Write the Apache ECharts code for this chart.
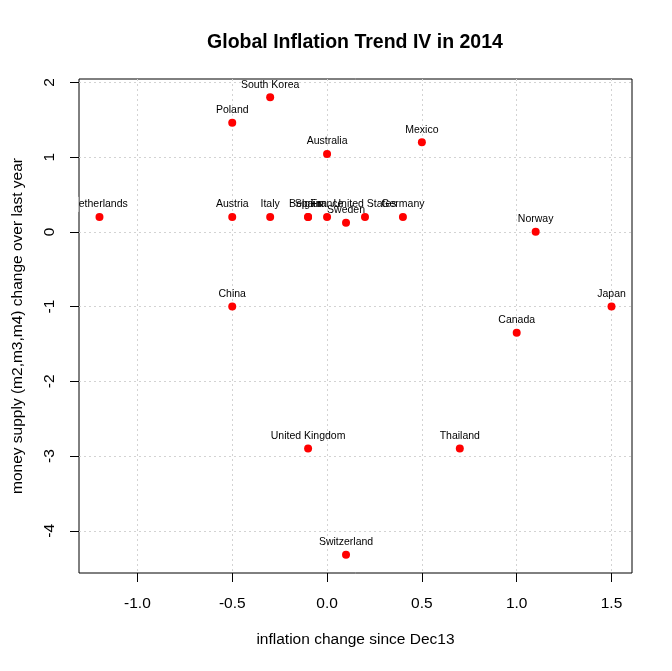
<!DOCTYPE html>
<html>
<head>
<meta charset="utf-8">
<title>Global Inflation Trend IV in 2014</title>
<script src="https://cdn.jsdelivr.net/npm/echarts@6/dist/echarts.min.js"></script>
<style>
  html, body { margin: 0; padding: 0; background: #fff; }
  #main { width: 672px; height: 671px; }
</style>
</head>
<body>
<div id="main"></div>
<script>
// data
const countries = ['South Korea', 'Poland', 'Australia', 'Mexico', 'Netherlands', 'Austria', 'Italy',
  'Belgium', 'Spain', 'France', 'Sweden', 'United States', 'Germany', 'Norway', 'China', 'Japan',
  'Canada', 'United Kingdom', 'Thailand', 'Switzerland']
const inflation = [-0.3, -0.5, 0.0, 0.5, -1.2, -0.5, -0.3, -0.1, -0.1, 0.0, 0.1, 0.2, 0.4, 1.1, -0.5, 1.5, 1.0, -0.1, 0.7, 0.1]
const moneySupply = [1.8, 1.46, 1.04, 1.2, 0.2, 0.2, 0.2, 0.2, 0.2, 0.2, 0.12, 0.2, 0.2, 0.0, -1.0, -1.0, -1.35, -2.9, -2.9, -4.32]

const xTicks = [-1.0, -0.5, 0.0, 0.5, 1.0, 1.5]
const yTicks = [-4, -3, -2, -1, 0, 1, 2]

const FONT = 'Liberation Sans, Arial, sans-serif'

// R style 4% padding of the data range
function padRange(vals) {
  const lo = Math.min(...vals), hi = Math.max(...vals)
  const d = (hi - lo) * 0.04
  return [lo - d, hi + d]
}
const xr = padRange(inflation)
const yr = padRange(moneySupply)

const points = countries.map((c, i) => ({ name: c, value: [inflation[i], moneySupply[i]] }))

const GRID = { left: 79, right: 40, top: 79, bottom: 98 }

const chart = echarts.init(document.getElementById('main'), null, { renderer: 'canvas' })

const gridLine = { show: true, lineStyle: { color: '#d3d3d3', type: [2, 3], width: 1 } }

chart.setOption({
  backgroundColor: '#ffffff',
  animation: false,
  title: {
    text: 'Global Inflation Trend IV in 2014',
    left: 350, top: 28, textAlign: 'center',
    textStyle: { fontFamily: FONT, fontSize: 19.5, fontWeight: 'bold', color: '#000' }
  },
  grid: Object.assign({
    show: true, borderColor: '#000', borderWidth: 1, backgroundColor: 'transparent'
  }, GRID),
  xAxis: {
    type: 'value',
    min: xr[0], max: xr[1],
    name: 'inflation change since Dec13',
    nameLocation: 'middle', nameGap: 59,
    nameTextStyle: { fontFamily: FONT, fontSize: 15.5, color: '#000' },
    axisLine: { show: false, onZero: false },
    axisTick: { show: true, inside: false, length: 9, customValues: xTicks, lineStyle: { color: '#000' } },
    axisLabel: {
      customValues: xTicks, margin: 23,
      fontFamily: FONT, fontSize: 15.5, color: '#000',
      formatter: v => v.toFixed(1)
    },
    splitLine: gridLine
  },
  yAxis: {
    type: 'value',
    min: yr[0], max: yr[1],
    name: 'money supply (m2,m3,m4) change over last year',
    nameLocation: 'middle', nameGap: 53, nameRotate: 90,
    nameTextStyle: { fontFamily: FONT, fontSize: 15.5, color: '#000' },
    axisLine: { show: false, onZero: false },
    axisTick: { show: true, inside: false, length: 9, customValues: yTicks, lineStyle: { color: '#000' } },
    axisLabel: {
      customValues: yTicks, margin: 21, rotate: 90,
      fontFamily: FONT, fontSize: 15.5, color: '#000',
      formatter: v => String(Math.round(v))
    },
    splitLine: gridLine
  },
  series: [{
    type: 'scatter',
    data: points,
    symbol: 'circle',
    symbolSize: 8,
    itemStyle: { color: '#ff0000', opacity: 1 },
    label: {
      show: true, position: 'top', distance: 3,
      formatter: p => p.name,
      fontFamily: FONT, fontSize: 10.5, color: '#000'
    }
  }]
})

// R clips point labels to the plot region: mask what spills left of the box
const spill = points
  .map(p => chart.convertToPixel({ seriesIndex: 0 }, p.value))
  .filter(px => px[0] - 40 < GRID.left)
chart.setOption({
  graphic: spill.map(px => ({
    type: 'rect', z: 10, silent: true,
    shape: { x: GRID.left - 30, y: px[1] - 20, width: 29.5, height: 15 },
    style: { fill: '#ffffff' }
  }))
})
</script>
</body>
</html>
